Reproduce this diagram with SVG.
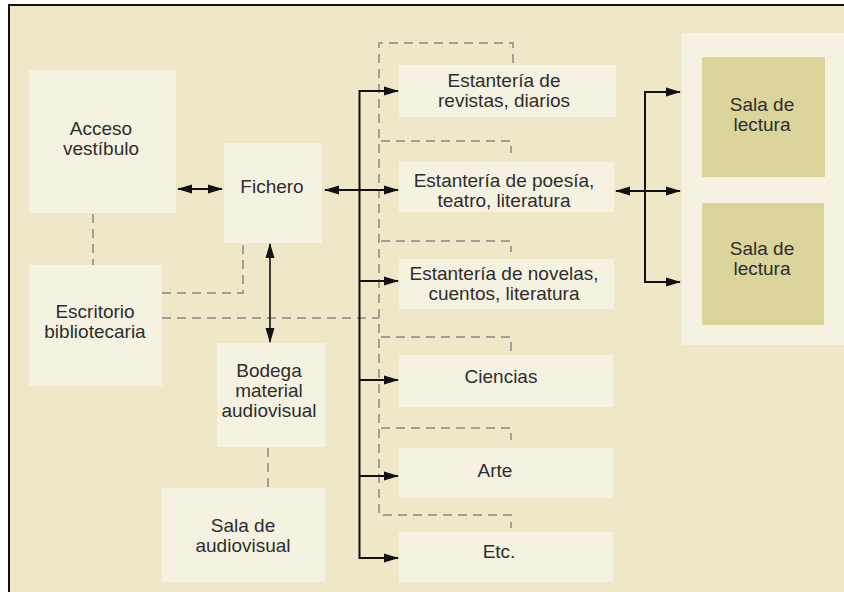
<svg xmlns="http://www.w3.org/2000/svg" width="844" height="592" viewBox="0 0 844 592">
<defs>
<marker id="ah" markerUnits="userSpaceOnUse" markerWidth="16" markerHeight="12" refX="14" refY="6" orient="auto-start-reverse">
<path d="M0,1.5 L15,6 L0,10.5 Z" fill="#111"/>
</marker>
<style>
.bg{fill:#efe8c8;stroke:#111;stroke-width:2}
.box{fill:#f6f2e2}
.olive{fill:#dbd49b}
.t{font-family:"Liberation Sans",Arial,sans-serif;font-size:19px;fill:#2d2d2d;text-anchor:middle}
.sol{fill:none;stroke:#111;stroke-width:2}
.thin{fill:none;stroke:#111;stroke-width:1.6}
.dash{fill:none;stroke:#a39f94;stroke-width:2;stroke-dasharray:9 6}
</style>
</defs>
<rect x="0" y="0" width="844" height="592" fill="#ffffff"/>
<rect class="bg" x="9" y="5" width="850" height="600"/>

<g id="acceso"><rect class="box" x="29" y="70" width="147" height="143"/><text class="t" x="101" y="135">Acceso</text><text class="t" x="101" y="155">vestíbulo</text></g>
<g id="fichero"><rect class="box" x="224" y="143" width="98" height="100"/><text class="t" x="272" y="193">Fichero</text></g>
<g id="escritorio"><rect class="box" x="29" y="265" width="133" height="121"/><text class="t" x="95" y="318">Escritorio</text><text class="t" x="95" y="338">bibliotecaria</text></g>
<g id="bodega"><rect class="box" x="217" y="343" width="108" height="104"/><text class="t" x="269" y="377">Bodega</text><text class="t" x="269" y="397">material</text><text class="t" x="269" y="417">audiovisual</text></g>
<g id="sala-audiovisual"><rect class="box" x="162" y="488" width="163" height="94"/><text class="t" x="243" y="532">Sala de</text><text class="t" x="243" y="552">audiovisual</text></g>

<g id="est-revistas"><rect class="box" x="399" y="65" width="217" height="52"/><text class="t" x="504" y="87">Estantería de</text><text class="t" x="504" y="107">revistas, diarios</text></g>
<g id="est-poesia"><rect class="box" x="399" y="162" width="215" height="50"/><text class="t" x="504" y="187">Estantería de poesía,</text><text class="t" x="504" y="207">teatro, literatura</text></g>
<g id="est-novelas"><rect class="box" x="399" y="259" width="215" height="50"/><text class="t" x="504" y="280">Estantería de novelas,</text><text class="t" x="504" y="300">cuentos, literatura</text></g>
<g id="ciencias"><rect class="box" x="399" y="355" width="214" height="52"/><text class="t" x="501" y="383">Ciencias</text></g>
<g id="arte"><rect class="box" x="399" y="448" width="214" height="50"/><text class="t" x="495" y="477">Arte</text></g>
<g id="etc"><rect class="box" x="399" y="532" width="214" height="50"/><text class="t" x="499" y="558">Etc.</text></g>

<g id="zona-lectura"><rect class="box" x="682" y="33" width="170" height="312"/></g>
<g id="sala-lectura-1"><rect class="olive" x="702" y="57" width="123" height="120"/><text class="t" x="762" y="111">Sala de</text><text class="t" x="762" y="131">lectura</text></g>
<g id="sala-lectura-2"><rect class="olive" x="702" y="203" width="122" height="122"/><text class="t" x="762" y="255">Sala de</text><text class="t" x="762" y="275">lectura</text></g>

<g id="connectors">
<path class="dash" d="M93,214 V265"/>
<path class="dash" d="M162,293 H243 V244"/>
<path class="dash" d="M162,318 H379"/>
<path class="dash" d="M513,63 V43 H379 V515 H511 V528"/>
<path class="dash" d="M381,141 H511 V153"/>
<path class="dash" d="M381,241 H511 V252"/>
<path class="dash" d="M381,337 H511 V352"/>
<path class="dash" d="M381,428 H511 V440"/>
<path class="dash" d="M268,448 V488"/>

<line class="sol" x1="178" y1="189" x2="222" y2="189" marker-start="url(#ah)" marker-end="url(#ah)"/>
<line class="sol" x1="325" y1="190" x2="398" y2="190" marker-start="url(#ah)" marker-end="url(#ah)"/>
<path class="sol" d="M398,91 H359.5 V558 H398" marker-start="url(#ah)" marker-end="url(#ah)"/>
<line class="sol" x1="359.5" y1="281" x2="398" y2="281" marker-end="url(#ah)"/>
<line class="sol" x1="359.5" y1="380" x2="398" y2="380" marker-end="url(#ah)"/>
<line class="sol" x1="359.5" y1="476" x2="398" y2="476" marker-end="url(#ah)"/>
<line class="thin" x1="270" y1="244" x2="270" y2="342" marker-start="url(#ah)" marker-end="url(#ah)"/>
<path class="sol" d="M680,92 H645 V282 H680" marker-start="url(#ah)" marker-end="url(#ah)"/>
<line class="sol" x1="616" y1="191" x2="680" y2="191" marker-start="url(#ah)" marker-end="url(#ah)"/>
</g>
</svg>
